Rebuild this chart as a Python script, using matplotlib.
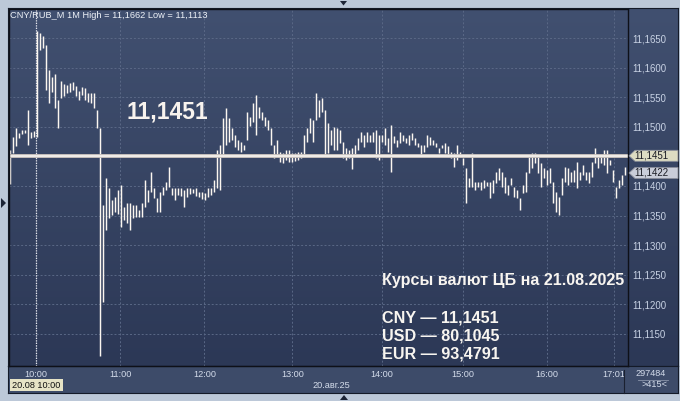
import numpy as np
import matplotlib.pyplot as plt
from matplotlib.patches import Polygon, Rectangle
from matplotlib.colors import LinearSegmentedColormap

plt.rcParams['font.family'] = ['Liberation Sans', 'DejaVu Sans']

W, H = 680, 401

# minute bars (one entry per drawn bar), high / low prices
high = [
    11.1461, 11.1483, 11.1498, 11.1490, 11.1495, 11.1495, 11.1528, 11.1491, 11.1493, 11.1662,
    11.1658, 11.1653, 11.1638, 11.1596, 11.1584, 11.1589, 11.1545, 11.1577, 11.1572, 11.1571,
    11.1574, 11.1576, 11.1569, 11.1560, 11.1567, 11.1566, 11.1557, 11.1557, 11.1557, 11.1528,
    11.1498, 11.1368, 11.1414, 11.1397, 11.1376, 11.1381, 11.1393, 11.1402, 11.1365, 11.1371,
    11.1371, 11.1368, 11.1368, 11.1359, 11.1371, 11.1410, 11.1393, 11.1424, 11.1397, 11.1380,
    11.1390, 11.1398, 11.1407, 11.1432, 11.1397, 11.1397, 11.1397, 11.1397, 11.1393, 11.1397,
    11.1397, 11.1395, 11.1397, 11.1390, 11.1390, 11.1388, 11.1397, 11.1397, 11.1410, 11.1461,
    11.1469, 11.1515, 11.1532, 11.1515, 11.1498, 11.1486, 11.1478, 11.1474, 11.1469, 11.1525,
    11.1517, 11.1540, 11.1554, 11.1533, 11.1525, 11.1517, 11.1511, 11.1498, 11.1469, 11.1478,
    11.1457, 11.1456, 11.1461, 11.1461, 11.1456, 11.1456, 11.1457, 11.1457, 11.1486, 11.1498,
    11.1515, 11.1511, 11.1557, 11.1545, 11.1549, 11.1528, 11.1506, 11.1495, 11.1500, 11.1498,
    11.1495, 11.1474, 11.1464, 11.1461, 11.1464, 11.1469, 11.1481, 11.1491, 11.1486, 11.1491,
    11.1486, 11.1491, 11.1495, 11.1486, 11.1486, 11.1498, 11.1481, 11.1503, 11.1484, 11.1478,
    11.1491, 11.1486, 11.1481, 11.1486, 11.1490, 11.1481, 11.1473, 11.1469, 11.1469, 11.1486,
    11.1483, 11.1478, 11.1473, 11.1464, 11.1469, 11.1473, 11.1468, 11.1457, 11.1456, 11.1469,
    11.1457, 11.1447, 11.1430, 11.1414, 11.1456, 11.1407, 11.1407, 11.1407, 11.1410, 11.1407,
    11.1407, 11.1410, 11.1424, 11.1430, 11.1424, 11.1415, 11.1402, 11.1414, 11.1398, 11.1393,
    11.1380, 11.1402, 11.1424, 11.1449, 11.1456, 11.1456, 11.1449, 11.1439, 11.1430, 11.1427,
    11.1430, 11.1407, 11.1390, 11.1381, 11.1414, 11.1432, 11.1430, 11.1424, 11.1427, 11.1441,
    11.1424, 11.1435, 11.1424, 11.1424, 11.1441, 11.1464, 11.1449, 11.1452, 11.1461, 11.1461,
    11.1444, 11.1427, 11.1398, 11.1410, 11.1419, 11.1432,
]
low = [
    11.1403, 11.1456, 11.1468, 11.1481, 11.1488, 11.1490, 11.1469, 11.1481, 11.1483, 11.1483,
    11.1630, 11.1633, 11.1562, 11.1540, 11.1559, 11.1532, 11.1498, 11.1549, 11.1552, 11.1557,
    11.1559, 11.1562, 11.1552, 11.1545, 11.1554, 11.1545, 11.1542, 11.1540, 11.1532, 11.1498,
    11.1113, 11.1204, 11.1326, 11.1346, 11.1351, 11.1356, 11.1353, 11.1331, 11.1343, 11.1337,
    11.1326, 11.1346, 11.1348, 11.1348, 11.1348, 11.1365, 11.1373, 11.1390, 11.1380, 11.1356,
    11.1356, 11.1385, 11.1393, 11.1398, 11.1385, 11.1376, 11.1385, 11.1383, 11.1365, 11.1381,
    11.1386, 11.1388, 11.1383, 11.1381, 11.1378, 11.1376, 11.1381, 11.1385, 11.1390, 11.1397,
    11.1393, 11.1449, 11.1469, 11.1474, 11.1478, 11.1466, 11.1461, 11.1457, 11.1461, 11.1478,
    11.1501, 11.1508, 11.1486, 11.1515, 11.1511, 11.1501, 11.1495, 11.1469, 11.1447, 11.1452,
    11.1441, 11.1439, 11.1444, 11.1441, 11.1441, 11.1442, 11.1444, 11.1447, 11.1452, 11.1474,
    11.1490, 11.1474, 11.1511, 11.1517, 11.1525, 11.1452, 11.1456, 11.1469, 11.1461, 11.1461,
    11.1473, 11.1447, 11.1444, 11.1447, 11.1429, 11.1452, 11.1461, 11.1474, 11.1466, 11.1474,
    11.1474, 11.1474, 11.1447, 11.1444, 11.1474, 11.1469, 11.1457, 11.1424, 11.1473, 11.1466,
    11.1473, 11.1476, 11.1473, 11.1469, 11.1478, 11.1469, 11.1466, 11.1452, 11.1457, 11.1466,
    11.1469, 11.1469, 11.1466, 11.1456, 11.1464, 11.1456, 11.1452, 11.1447, 11.1432, 11.1444,
    11.1449, 11.1435, 11.1371, 11.1398, 11.1398, 11.1393, 11.1398, 11.1393, 11.1397, 11.1400,
    11.1380, 11.1388, 11.1405, 11.1410, 11.1398, 11.1388, 11.1385, 11.1402, 11.1381, 11.1380,
    11.1359, 11.1388, 11.1390, 11.1422, 11.1430, 11.1439, 11.1422, 11.1398, 11.1414, 11.1402,
    11.1405, 11.1371, 11.1356, 11.1351, 11.1385, 11.1407, 11.1402, 11.1407, 11.1407, 11.1397,
    11.1410, 11.1419, 11.1410, 11.1405, 11.1415, 11.1439, 11.1430, 11.1439, 11.1435, 11.1422,
    11.1435, 11.1407, 11.1380, 11.1397, 11.1402, 11.1419,
]

time_labels = ['10:00', '11:00', '12:00', '13:00', '14:00', '15:00', '16:00', '17:01']
time_bars = [8.7, 36.8, 64.8, 94.1, 123.9, 151.1, 178.9, 201.3]
price_ticks = [11.115, 11.120, 11.125, 11.130, 11.135, 11.140,
               11.145, 11.150, 11.155, 11.160, 11.165]

ref_price = 11.1451
last_price = 11.1422
title = 'CNY/RUB_M 1M High = 11,1662 Low = 11,1113'
cb_title = 'Курсы валют ЦБ на 21.08.2025'
cb_rates = ['CNY — 11,1451', 'USD — 80,1045', 'EUR — 93,4791']


def fx(px):
    return px / W


def fy(py):
    return 1 - py / H


def fmt(v):
    return f'{v:.4f}'.replace('.', ',')


fig = plt.figure(figsize=(6.8, 4.01), dpi=100)
fig.patch.set_facecolor('#bcc8d8')

# dark gradient behind chart and price scale
bg = fig.add_axes([fx(8), fy(366), fx(678) - fx(8), fy(8) - fy(366)])
grad = np.linspace(0, 1, 256).reshape(-1, 1)
cmap = LinearSegmentedColormap.from_list('bg', ['#415070', '#2c3856'])
bg.imshow(grad, aspect='auto', cmap=cmap, extent=[0, 1, 0, 1])
bg.set_xticks([])
bg.set_yticks([])
for s in bg.spines.values():
    s.set_color('#141a28')

# time strip at the bottom
strip = fig.add_axes([fx(8), fy(393), fx(678) - fx(8), fy(366) - fy(393)])
strip.set_facecolor('#3d4b69')
strip.set_xticks([])
strip.set_yticks([])
for s in strip.spines.values():
    s.set_color('#141a28')

ax = fig.add_axes([fx(9), fy(366), fx(628) - fx(9), fy(9) - fy(366)])
ax.set_facecolor('none')
ax.set_xlim(-1 / 3, 206)
ax.set_ylim(11.10959, 11.16990)

ax.set_xticks(time_bars)
ax.set_xticklabels(time_labels)
ax.yaxis.tick_right()
ax.set_yticks(price_ticks)
ax.set_yticklabels(['' if abs(v - 11.145) < 1e-6 else fmt(v) for v in price_ticks])
ax.tick_params(axis='x', length=0, pad=3.2, labelsize=6.6, labelcolor='#d3dbea')
ax.tick_params(axis='y', length=0, pad=3.0, labelsize=6.9, labelcolor='#c9d3e5')
ax.grid(True, color='#5a6886', ls=(0, (2, 2)), lw=0.7)
for s in ax.spines.values():
    s.set_color('#0e1018')
    s.set_linewidth(1.0)

# day separator
ax.axvline(time_bars[0], color='#e8e8ee', ls=(0, (1, 1)), lw=0.9)

x = np.arange(len(high))
ax.vlines(x, low, high, color='#fbf6f0', lw=1.05)

ax.axhline(ref_price, color='#c9c2be', lw=2.8)
ax.axhline(ref_price, color='#fdfaf5', lw=1.1)

fig.text(fx(10), fy(15), title, fontsize=6.7, color='#eef2f8', va='center')
fig.text(fx(127), fy(112), fmt(ref_price), fontsize=16.5, weight='bold',
         color='#f8f3ee', va='center')

fig.text(fx(382), fy(280), cb_title, fontsize=11.6, weight='bold',
         color='#f8f5f0', va='center')
for i, line in enumerate(cb_rates):
    fig.text(fx(382), fy(318 + 18.2 * i), line, fontsize=11.6, weight='bold',
             color='#f8f5f0', va='center')

# price tags on the scale
to_fig = fig.transFigure.inverted()
for price, face in [(ref_price, '#dddcc2'), (last_price, '#c9cdd9')]:
    yd = ax.transData.transform((0, price))[1]
    yf = to_fig.transform((0, yd))[1]
    hh = 5.5 / H
    tag = Polygon([(fx(629), yf), (fx(635), yf + hh), (fx(678), yf + hh),
                   (fx(678), yf - hh), (fx(635), yf - hh)], closed=True,
                  transform=fig.transFigure, facecolor=face,
                  edgecolor='#8a8e9a', lw=0.6, zorder=5)
    fig.patches.append(tag)
    fig.text(fx(634), yf, fmt(price), fontsize=7, color='#1a1c24',
             va='center', zorder=6)

# bottom strip labels
fig.text(fx(331), fy(385), '20.авг.25', fontsize=6.6, color='#d3dbea',
         ha='center', va='center')
box = Rectangle((fx(10), fy(391)), fx(63) - fx(10), fy(379) - fy(391),
                transform=fig.transFigure, facecolor='#e6e3c6',
                edgecolor='none', zorder=5)
fig.patches.append(box)
fig.text(fx(36.5), fy(385), '20.08 10:00', fontsize=6.6, color='#101010',
         ha='center', va='center', zorder=6)
fig.text(fx(651), fy(373), '297484', fontsize=6.6, color='#d3dbea',
         ha='center', va='center')
fig.text(fx(654), fy(384.5), '>415<', fontsize=6.6, color='#d3dbea',
         ha='center', va='center')
fig.lines.append(plt.Line2D([fx(638), fx(668)], [fy(379.5), fy(379.5)],
                            transform=fig.transFigure, color='#8a94aa', lw=0.6))
fig.lines.append(plt.Line2D([fx(624), fx(624)], [fy(370), fy(393)],
                            transform=fig.transFigure, color='#1a2030', lw=0.8))

# small arrow markers on the frame
for pts in ([(1, 198), (1, 208), (6, 203)],
            [(340, 1), (347, 1), (343.5, 5.5)],
            [(340, 400), (348, 400), (344, 395)]):
    fig.patches.append(Polygon([(fx(a), fy(b)) for a, b in pts], closed=True,
                               transform=fig.transFigure, facecolor='#1c2436',
                               edgecolor='none'))

fig.savefig('out.png', dpi=100, facecolor=fig.get_facecolor())
